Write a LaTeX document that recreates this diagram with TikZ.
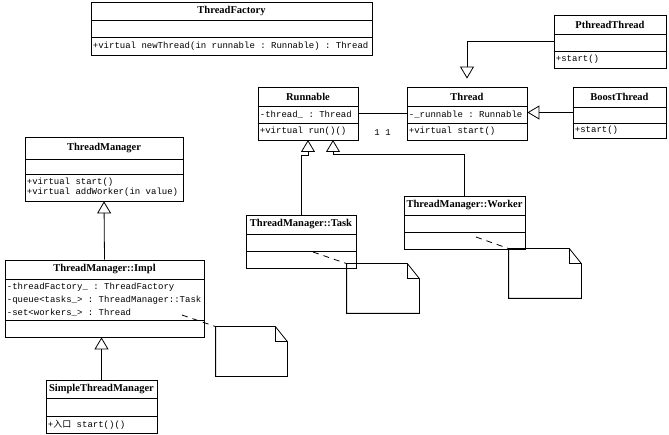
\documentclass[tikz,border=0pt]{standalone}
\usepackage{fontspec}
\setmainfont{Liberation Serif}
\setmonofont{Liberation Mono}
\newfontfamily\cjk{Noto Sans CJK SC}
\usetikzlibrary{arrows.meta,fit,calc}

\begin{document}
\begin{tikzpicture}[x=1pt, y=-1pt, line width=0.8pt,
  umlbox/.style={draw, inner sep=0pt},
  classname/.style={inner sep=0pt, font=\bfseries\fontsize{10.5}{11}\selectfont},
  member/.style={anchor=west, inner sep=0pt, font=\ttfamily\fontsize{9}{10}\selectfont},
  inherit/.style={-{Triangle[open, length=12pt, width=14pt]}},
  notelink/.style={dash pattern=on 6pt off 5pt}]
  \useasboundingbox (0,0) rectangle (669,435);
  % factory
  \node[umlbox, fit={(91,2) (372,55)}] (factory) {};
  \draw (91,20) -- (372,20) (91,37) -- (372,37);
  \node[classname] (factoryname) at (231.5,11) {ThreadFactory};
  \node[member] (factoryop) at (92.5,46) {+virtual newThread(in runnable : Runnable) : Thread};
  % threads
  \node[umlbox, fit={(554,15) (666,68)}] (pthread) {};
  \draw (554,34) -- (666,34) (554,51) -- (666,51);
  \node[classname] (pthreadname) at (610,24.5) {PthreadThread};
  \node[member] (pthreadop) at (555.5,59.5) {+start()};
  \node[umlbox, fit={(573,87) (666,138)}] (boost) {};
  \draw (573,107) -- (666,107) (573,123) -- (666,123);
  \node[classname] (boostname) at (619.5,97) {BoostThread};
  \node[member] (boostop) at (574.5,130.5) {+start()};
  \node[umlbox, fit={(407,87) (527,140)}] (thread) {};
  \draw (407,106) -- (527,106) (407,123) -- (527,123);
  \node[classname] (threadname) at (467,96.5) {Thread};
  \node[member] (threadattr) at (408.5,114.5) {-\_runnable : Runnable};
  \node[member] (threadop) at (408.5,131.5) {+virtual start()};
  \node[umlbox, fit={(258,87) (358,140)}] (runnable) {};
  \draw (258,106) -- (358,106) (258,123) -- (358,123);
  \node[classname] (runnablename) at (308,96.5) {Runnable};
  \node[member] (runnableattr) at (259.5,114.5) {-thread\_ : Thread};
  \node[member] (runnableop) at (259.5,131.5) {+virtual run()()};
  % manager
  \node[umlbox, fit={(25,137) (183,201)}] (manager) {};
  \draw (25,159) -- (183,159) (25,174) -- (183,174);
  \node[classname] (managername) at (104,148) {ThreadManager};
  \node[member] (managerop1) at (26.5,182) {+virtual start()};
  \node[member] (managerop2) at (26.5,192.5) {+virtual addWorker(in value)};
  \node[umlbox, fit={(5,260) (204,337)}] (impl) {};
  \draw (5,279) -- (204,279) (5,320) -- (204,320);
  \node[classname] (implname) at (104.5,269.5) {ThreadManager::Impl};
  \node[member] (implattr1) at (6.5,287) {-threadFactory\_ : ThreadFactory};
  \node[member] (implattr2) at (6.5,300) {-queue<tasks\_> : ThreadManager::Task};
  \node[member] (implattr3) at (6.5,313) {-set<workers\_> : Thread};
  \node[umlbox, fit={(46,380) (157,433)}] (simple) {};
  \draw (46,398) -- (157,398) (46,416) -- (157,416);
  \node[classname] (simplename) at (101.5,389) {SimpleThreadManager};
  \node[member] (simpleop) at (47.5,424.5) {+{\cjk 入口} start()()};
  \node[umlbox, fit={(246,215) (356,268)}] (task) {};
  \draw (246,234) -- (356,234) (246,251) -- (356,251);
  \node[classname] (taskname) at (301,224.5) {ThreadManager::Task};
  \node[umlbox, fit={(404,196) (525,249)}] (worker) {};
  \draw (404,215) -- (525,215) (404,232) -- (525,232);
  \node[classname] (workername) at (464.5,205.5) {ThreadManager::Worker};
  % notes
  \node[fit={(216,327) (287,376)}, inner sep=0pt] (implnote) {};
  \node[fit={(347,264) (419,313)}, inner sep=0pt] (tasknote) {};
  \node[fit={(509,249) (581,298)}, inner sep=0pt] (workernote) {};
  \foreach \n in {implnote, tasknote, workernote}
    {\draw (\n.north west) -- ($(\n.north east)+(-12,0)$) -- ($(\n.north east)+(0,15)$)
       -- (\n.south east) -- (\n.south west) -- cycle;
     \draw ($(\n.north east)+(-12,0)$) |- ($(\n.north east)+(0,15)$);}
  \coordinate (implspot) at (182,315);
  \coordinate (taskspot) at (313,252);
  \coordinate (workerspot) at (476,237);
  \draw[notelink] (implspot) -- (implnote.north west);
  \draw[notelink] (taskspot) -- (tasknote.north west);
  \draw[notelink] (workerspot) -- (workernote.north west);
  % links
  \draw (runnable.east) -- (thread.west);
  \node[member, anchor=center] (mult1) at (377,133) {1};
  \node[member, anchor=center] (mult2) at (388,133) {1};
  \draw[inherit, shorten >=8pt] (pthread.west) -| (thread.north);
  \draw[inherit] (boost.west) -- (boost.west -| thread.east);
  \coordinate (taskhead) at (308,140);
  \coordinate (workerhead) at (333,140);
  \draw[inherit] (task.north) |- ($(taskhead)+(0,15)$) -- (taskhead);
  \draw[inherit] (worker.north) |- ($(workerhead)+(0,14)$) -- (workerhead);
  \draw[inherit] (impl.north) -- (manager.south);
  \draw[inherit] (simple.north) -- (simple.north |- impl.south);
\end{tikzpicture}
\end{document}
